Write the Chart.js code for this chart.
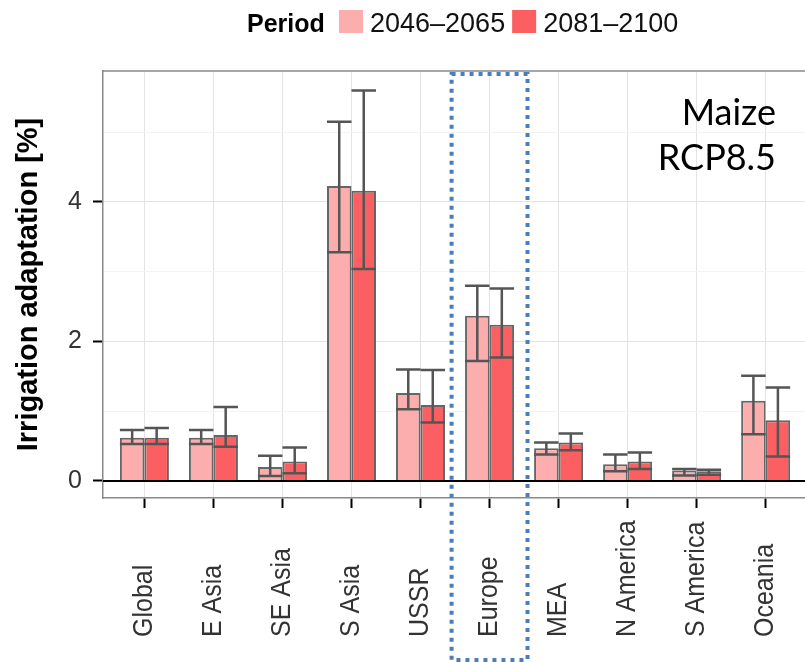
<!DOCTYPE html>
<html>
<head>
<meta charset="utf-8">
<script src="https://cdn.jsdelivr.net/npm/chart.js@4.4.1/dist/chart.umd.min.js"></script>
<style>
  html, body { margin: 0; padding: 0; background: #fff; overflow: hidden; }
  #wrap { width: 805px; height: 662px; }
</style>
</head>
<body>
<div id="wrap"><canvas id="chart" width="805" height="662"></canvas></div>
<script>
// Irrigation adaptation by region (maize, RCP8.5)

const categories = ['Global', 'E Asia', 'SE Asia', 'S Asia', 'USSR', 'Europe', 'MEA', 'N America', 'S America', 'Oceania'];
const periods = ['2046–2065', '2081–2100'];

// period 2046-2065
const mean2046 = [0.62, 0.62, 0.20, 4.23, 1.26, 2.37, 0.47, 0.24, 0.15, 1.15];
const low2046  = [0.53, 0.53, 0.07, 3.28, 1.03, 1.72, 0.38, 0.14, 0.08, 0.67];
const high2046 = [0.73, 0.73, 0.36, 5.15, 1.60, 2.80, 0.55, 0.38, 0.17, 1.51];

// period 2081-2100
const mean2081 = [0.62, 0.66, 0.28, 4.16, 1.09, 2.24, 0.55, 0.28, 0.14, 0.87];
const low2081  = [0.53, 0.49, 0.11, 3.04, 0.84, 1.77, 0.44, 0.17, 0.09, 0.35];
const high2081 = [0.76, 1.06, 0.48, 5.60, 1.59, 2.76, 0.68, 0.41, 0.16, 1.34];

const yTickLabels = [0, 2, 4];
const highlighted = 'Europe';
const panelTexts = ['Maize', 'RCP8.5'];

const lows = [low2046, low2081];
const highs = [high2046, high2081];

const toPoints = arr => arr.map((v, i) => ({ x: i, y: v }));

// error bars + zero line
const errorBarPlugin = {
  id: 'errorBars',
  afterDatasetsDraw(chart) {
    const ctx = chart.ctx;
    const ys = chart.scales.y;
    ctx.save();
    ctx.strokeStyle = '#555';
    ctx.lineWidth = 2.5;
    chart.data.datasets.forEach((ds, d) => {
      const meta = chart.getDatasetMeta(d);
      meta.data.forEach((bar, i) => {
        const half = bar.width / 2;
        const yLo = ys.getPixelForValue(lows[d][i]);
        const yHi = ys.getPixelForValue(highs[d][i]);
        ctx.beginPath();
        ctx.moveTo(bar.x, yLo);
        ctx.lineTo(bar.x, yHi);
        ctx.moveTo(bar.x - half, yHi);
        ctx.lineTo(bar.x + half, yHi);
        ctx.moveTo(bar.x - half, yLo);
        ctx.lineTo(bar.x + half, yLo);
        ctx.stroke();
      });
    });
    // horizontal line at zero
    const y0 = ys.getPixelForValue(0);
    ctx.strokeStyle = '#000';
    ctx.lineWidth = 2;
    ctx.beginPath();
    ctx.moveTo(chart.chartArea.left, y0);
    ctx.lineTo(chart.chartArea.right, y0);
    ctx.stroke();
    ctx.restore();
  }
};

// panel border, x labels, legend, annotation
const decorPlugin = {
  id: 'decor',
  afterDraw(chart) {
    const ctx = chart.ctx;
    const area = chart.chartArea;
    const xs = chart.scales.x;

    ctx.save();
    ctx.strokeStyle = '#8a8a8a';
    ctx.lineWidth = 1.5;
    ctx.beginPath();
    ctx.moveTo(area.left, area.top);
    ctx.lineTo(area.right, area.top);
    ctx.stroke();

    // rotated category labels (slightly widened like the source figure)
    ctx.font = '25px "Liberation Sans", Arial, sans-serif';
    ctx.fillStyle = '#333';
    ctx.textAlign = 'left';
    ctx.textBaseline = 'middle';
    categories.forEach((c, i) => {
      ctx.save();
      ctx.translate(xs.getPixelForValue(i), 637);
      ctx.rotate(-Math.PI / 2);
      ctx.scale(1, 1.12);
      ctx.fillText(c, 0, 0);
      ctx.restore();
    });

    // legend
    ctx.textBaseline = 'alphabetic';
    ctx.fillStyle = '#000';
    ctx.font = 'bold 25px "Liberation Sans", Arial, sans-serif';
    ctx.fillText('Period', 247, 32);
    let lx = 339;
    ctx.font = '27px "Liberation Sans", Arial, sans-serif';
    chart.data.datasets.forEach(ds => {
      ctx.fillStyle = ds.backgroundColor;
      ctx.fillRect(lx, 10, 24, 23);
      ctx.fillStyle = '#111';
      ctx.fillText(ds.label, lx + 31, 32);
      lx += 31 + ctx.measureText(ds.label).width + 7;
    });

    // highlight box around one region
    const idx = categories.indexOf(highlighted);
    const bx0 = xs.getPixelForValue(idx - 0.55);
    const bx1 = xs.getPixelForValue(idx + 0.55);
    ctx.strokeStyle = '#4a7ebb';
    ctx.lineWidth = 4;
    ctx.setLineDash([4, 5]);
    ctx.strokeRect(bx0, area.top + 3, bx1 - bx0, 660 - area.top - 3);
    ctx.setLineDash([]);

    // panel text
    ctx.fillStyle = '#000';
    ctx.textAlign = 'right';
    ctx.font = '36px Lato, "Open Sans", sans-serif';
    ctx.fillText(panelTexts[0], 776, 125);
    ctx.fillText(panelTexts[1], 776, 170);
    ctx.restore();
  }
};

new Chart(document.getElementById('chart'), {
  type: 'bar',
  data: {
    datasets: [
      {
        label: periods[0],
        data: toPoints(mean2046),
        backgroundColor: '#fcaeae',
        borderColor: '#666',
        borderWidth: 2
      },
      {
        label: periods[1],
        data: toPoints(mean2081),
        backgroundColor: '#fb5f61',
        borderColor: '#666',
        borderWidth: 2
      }
    ]
  },
  options: {
    responsive: false,
    animation: false,
    events: [],
    layout: {
      padding: { top: 71, left: 0, right: 0, bottom: 0 }
    },
    datasets: {
      bar: {
        barPercentage: 1,
        categoryPercentage: 0.71
      }
    },
    plugins: {
      legend: { display: false },
      tooltip: { enabled: false }
    },
    scales: {
      x: {
        type: 'linear',
        min: -0.6,
        max: 9.57,
        offset: false,
        afterBuildTicks: axis => {
          axis.ticks = categories.map((c, i) => ({ value: i }));
        },
        afterFit: scale => { scale.height = 164; },
        ticks: { display: false },
        grid: {
          offset: false,
          color: '#e3e3e3',
          lineWidth: 1,
          tickColor: '#000',
          tickWidth: 2,
          tickLength: 10
        },
        border: { color: '#8a8a8a', width: 1.5 }
      },
      y: {
        min: -0.244,
        max: 5.878,
        afterFit: scale => { scale.width = 103; },
        ticks: {
          stepSize: 1,
          includeBounds: false,
          padding: 11,
          color: '#333',
          font: { family: '"Liberation Sans", Arial, sans-serif', size: 25 },
          callback: v => yTickLabels.includes(v) ? String(v) : ''
        },
        grid: {
          color: ctx => (ctx.tick && ctx.tick.value % 2 === 0) ? '#e3e3e3' : '#f3f3f3',
          tickColor: ctx => (ctx.tick && yTickLabels.includes(ctx.tick.value)) ? '#000' : 'rgba(0,0,0,0)',
          tickWidth: 2,
          tickLength: 10
        },
        border: { color: '#8a8a8a', width: 1.5 },
        title: {
          display: true,
          text: 'Irrigation adaptation [%]',
          color: '#000',
          padding: { top: 12, bottom: 0 },
          font: { family: '"Liberation Sans", Arial, sans-serif', size: 29, weight: 'bold' }
        }
      }
    }
  },
  plugins: [errorBarPlugin, decorPlugin]
});
</script>
</body>
</html>
